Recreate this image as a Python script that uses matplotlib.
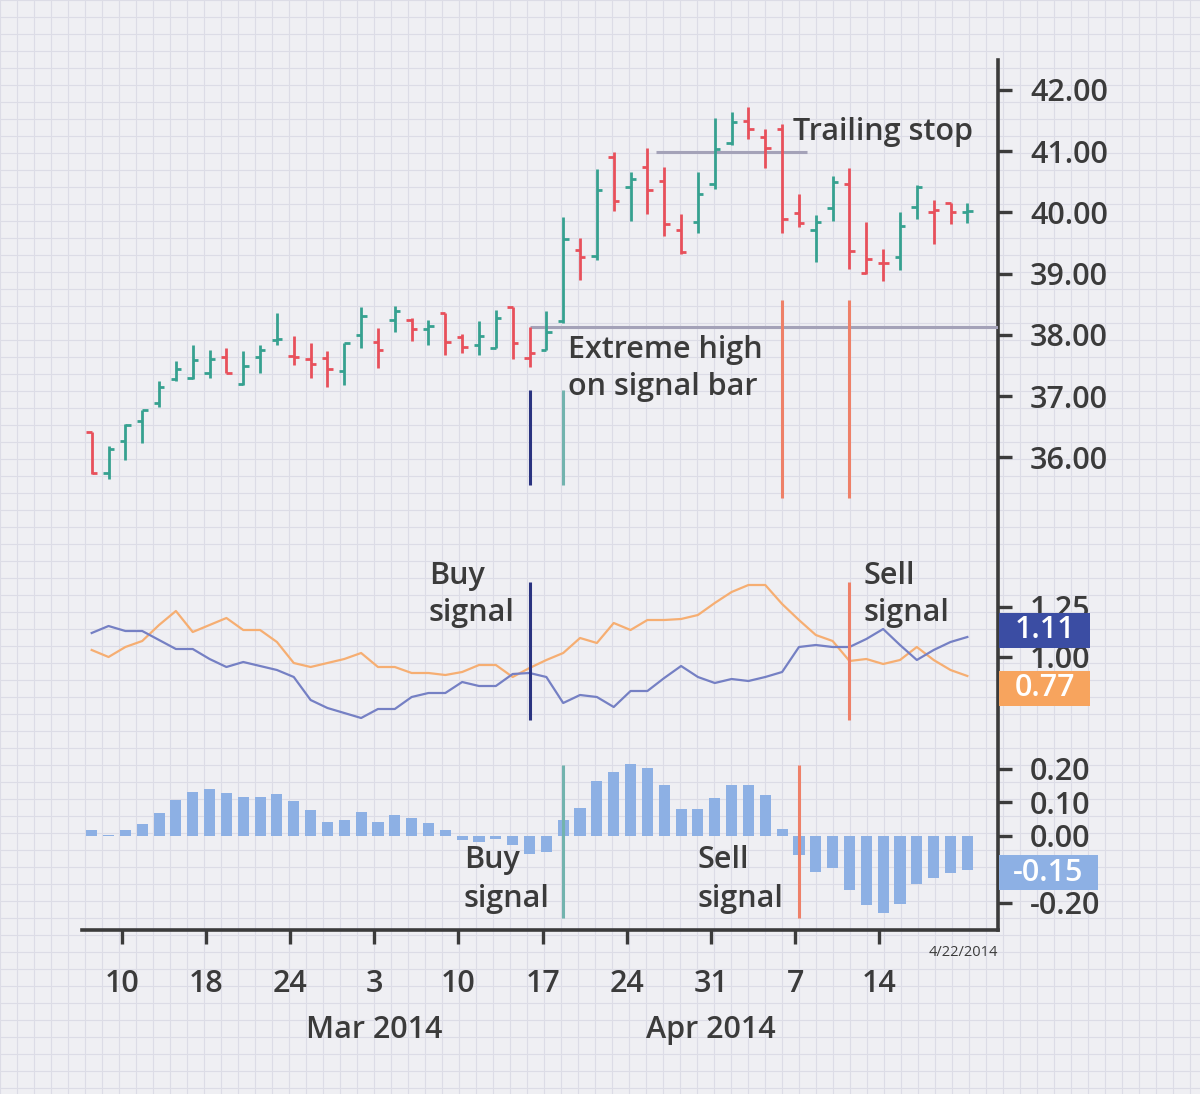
import numpy as np
import pandas as pd
import matplotlib
matplotlib.use("Agg")
import matplotlib.pyplot as plt
import matplotlib.transforms as mtransforms
from matplotlib.patches import Rectangle

plt.rcParams['font.family'] = ['Open Sans', 'DejaVu Sans']
plt.rcParams['font.weight'] = 'semibold'

# ---- data ----
dates = pd.bdate_range("2014-02-07", "2014-04-22")

opens = [36.41, 35.74, 36.27, 36.59, 36.89, 37.28, 37.29, 37.38, 37.63, 37.19,
         37.64, 37.91, 37.66, 37.60, 37.62, 37.41, 38.00, 37.88, 38.24, 38.25,
         38.09, 38.35, 37.97, 37.83, 37.79, 38.45, 37.62, 37.76, 38.23, 39.38,
         39.29, 40.90, 40.42, 40.74, 40.52, 39.71, 39.84, 40.46, 41.14, 41.50,
         41.24, 41.36, 39.99, 39.71, 40.07, 40.46, 39.01, 39.17, 39.27, 40.09,
         40.01, 40.15, 40.00]
highs = [36.41, 36.19, 36.54, 36.78, 37.25, 37.57, 37.84, 37.76, 37.78, 37.74,
         37.84, 38.35, 37.98, 37.86, 37.73, 37.87, 38.46, 38.11, 38.47, 38.27,
         38.25, 38.35, 38.02, 38.22, 38.41, 38.45, 38.12, 38.39, 39.92, 39.58,
         40.71, 40.98, 40.66, 41.05, 40.75, 39.98, 40.66, 41.54, 41.64, 41.73,
         41.37, 41.44, 40.30, 39.95, 40.60, 40.73, 39.85, 39.41, 40.00, 40.44,
         40.21, 40.16, 40.16]
lows = [35.73, 35.64, 35.95, 36.24, 36.82, 37.24, 37.28, 37.29, 37.37, 37.18,
        37.37, 37.83, 37.50, 37.30, 37.14, 37.18, 37.79, 37.46, 38.05, 37.90,
        37.83, 37.67, 37.70, 37.67, 37.78, 37.60, 37.48, 37.75, 38.20, 38.89,
        39.22, 40.02, 39.86, 39.98, 39.62, 39.32, 39.67, 40.39, 41.10, 41.20,
        40.73, 39.67, 39.76, 39.19, 39.86, 39.07, 39.00, 38.88, 39.06, 39.90,
        39.49, 39.81, 39.83]
closes = [35.75, 36.14, 36.52, 36.77, 37.14, 37.45, 37.59, 37.60, 37.38, 37.49,
          37.75, 37.94, 37.64, 37.53, 37.44, 37.86, 38.31, 37.76, 38.39, 38.09,
          38.14, 37.88, 37.80, 37.98, 38.27, 37.86, 37.70, 38.05, 39.56, 39.27,
          40.37, 40.19, 40.54, 40.37, 39.81, 39.36, 40.30, 41.04, 41.47, 41.37,
          41.05, 39.89, 39.82, 39.85, 40.49, 39.37, 39.24, 39.18, 39.78, 40.42,
          40.04, 40.01, 40.03]

osc_blue = [1.12, 1.155, 1.13, 1.13, 1.085, 1.04, 1.04, 0.99, 0.95, 0.975,
            0.955, 0.935, 0.90, 0.785, 0.745, 0.72, 0.695, 0.74, 0.74, 0.80,
            0.82, 0.82, 0.875, 0.855, 0.855, 0.915, 0.92, 0.90, 0.77, 0.81,
            0.80, 0.75, 0.83, 0.83, 0.895, 0.955, 0.90, 0.87, 0.89, 0.88,
            0.90, 0.925, 1.05, 1.06, 1.05, 1.05, 1.09, 1.14, 1.06, 0.985,
            1.035, 1.075, 1.10]
osc_orange = [1.035, 1.00, 1.05, 1.08, 1.16, 1.23, 1.125, 1.16, 1.195, 1.135,
              1.135, 1.075, 0.97, 0.95, 0.97, 0.99, 1.02, 0.95, 0.95, 0.92,
              0.92, 0.91, 0.925, 0.96, 0.96, 0.90, 0.945, 0.985, 1.02, 1.095,
              1.07, 1.17, 1.135, 1.185, 1.185, 1.19, 1.21, 1.27, 1.325, 1.36,
              1.36, 1.265, 1.185, 1.11, 1.08, 0.98, 0.99, 0.965, 0.985, 1.05,
              0.985, 0.935, 0.905]
hist = [0.017, 0.003, 0.017, 0.035, 0.07, 0.107, 0.132, 0.141, 0.127, 0.117,
        0.117, 0.125, 0.104, 0.077, 0.043, 0.049, 0.072, 0.043, 0.063, 0.053,
        0.039, 0.017, -0.013, -0.018, -0.01, -0.027, -0.055, -0.047, 0.048, 0.085,
        0.164, 0.192, 0.214, 0.204, 0.151, 0.08, 0.08, 0.112, 0.151, 0.151,
        0.122, 0.02, -0.057, -0.106, -0.097, -0.161, -0.206, -0.231, -0.202, -0.142,
        -0.124, -0.109, -0.102]

tick_dates = ["2014-02-10", "2014-02-17", "2014-02-24", "2014-03-03", "2014-03-10",
              "2014-03-17", "2014-03-24", "2014-03-31", "2014-04-07", "2014-04-14"]
tick_labels = ["10", "18", "24", "3", "10", "17", "24", "31", "7", "14"]
month_dates = ["2014-03-03", "2014-03-31"]
month_labels = ["Mar 2014", "Apr 2014"]

buy_signal = "2014-03-17"
buy_confirm = "2014-03-19"
sell_signals = ["2014-04-07", "2014-04-11"]
hist_buy = "2014-03-19"
hist_sell = "2014-04-08"
trailing_stop = 40.99
trail_span = ("2014-03-27", "2014-04-08")

price_ticks = [36, 37, 38, 39, 40, 41, 42]
osc_ticks = [1.00, 1.25]
hist_ticks = [-0.20, 0.00, 0.10, 0.20]
last_labels = {"blue": "1.11", "orange": "0.77", "hist": "-0.15"}

# ---- colours ----
TXT = "#3b3b3b"
GREEN = "#36a190"
RED = "#e8505b"
NAVY = "#2a3380"
TEAL = "#72b3ae"
SELL = "#ee8068"
GREYLINE = "#a4a2b8"
BLUE = "#7580c4"
ORANGE = "#f6ae72"
BLUEBOX = "#3b4da3"
ORANGEBOX = "#f7a45e"
HISTC = "#8db0e4"

x = np.arange(len(dates))
pos = {d.strftime("%Y-%m-%d"): i for i, d in enumerate(dates)}
tick_off = 0.78

W, H = 1200, 1094
fig = plt.figure(figsize=(W / 100, H / 100), dpi=100)
fig.patch.set_facecolor("#efeff3")

# graph paper background
bg = fig.add_axes([0, 0, 1, 1], zorder=-10)
bg.set_xlim(0, W)
bg.set_ylim(H, 0)
bg.axis("off")
for gx in np.arange(0, W, 17):
    bg.axvline(gx, color="#dcdce6", lw=0.8)
for gy in np.arange(0, H, 17):
    bg.axhline(gy, color="#dcdce6", lw=0.8)


def rect(top, bottom, left=82, right=998):
    return [left / W, 1 - bottom / H, (right - left) / W, (bottom - top) / H]


xlim = (-0.576, 53.82)

# frame with bottom and right spines
axf = fig.add_axes(rect(60, 930))
axf.patch.set_alpha(0)
axf.set_xlim(xlim)
for s in ["top", "left"]:
    axf.spines[s].set_visible(False)
for s in ["bottom", "right"]:
    axf.spines[s].set_linewidth(2.6)
    axf.spines[s].set_color(TXT)
axf.set_yticks([])
tpos = [pos[d] + tick_off for d in tick_dates]
axf.set_xticks(tpos)
axf.set_xticklabels(tick_labels, fontsize=22, color=TXT)
axf.tick_params(axis="x", direction="out", length=10, width=2.4, color=TXT, pad=18)
for d, lab in zip(month_dates, month_labels):
    axf.text(pos[d] + tick_off, -0.115, lab, transform=axf.get_xaxis_transform(),
             ha="center", va="center", fontsize=22, color=TXT)
axf.text(1.0, -0.026, dates[-1].strftime("%-m/%d/%Y"), transform=axf.transAxes,
         ha="right", va="center", fontsize=10.5, color=TXT, fontweight="normal")


def panel(top, bottom, ylim, ticks, fmt):
    ax = fig.add_axes(rect(top, bottom))
    ax.patch.set_alpha(0)
    ax.set_xlim(xlim)
    ax.set_ylim(ylim)
    for s in ax.spines.values():
        s.set_visible(False)
    ax.set_xticks([])
    ax.yaxis.tick_right()
    ax.set_yticks(ticks)
    ax.set_yticklabels([fmt.format(t) for t in ticks], fontsize=22, color=TXT)
    ax.tick_params(axis="y", direction="out", length=10, width=2.4, color=TXT, pad=13)
    return ax


# ---- price panel ----
axp = panel(60, 505, (35.22, 42.49), price_ticks, "{:.2f}")
prev = np.r_[opens[0], closes[:-1]]
cols = np.where(np.array(closes) >= prev, GREEN, RED)
axp.vlines(x, lows, highs, colors=cols, lw=2.0)
axp.hlines(opens, x - 0.32, x, colors=cols, lw=2.0)
axp.hlines(closes, x, x + 0.32, colors=cols, lw=2.0)

ib = pos[buy_signal]
axp.hlines(highs[ib], ib, xlim[1], color=GREYLINE, lw=2.2, zorder=1)
axp.hlines(trailing_stop, pos[trail_span[0]] - 0.5, pos[trail_span[1]] + 0.5,
           color=GREYLINE, lw=2.2, zorder=1)
axp.vlines(ib, 35.54, 37.10, color=NAVY, lw=2.2)
axp.vlines(pos[buy_confirm], 35.54, 37.10, color=TEAL, lw=2.2)
for d in sell_signals:
    axp.vlines(pos[d], 35.33, 38.57, color=SELL, lw=2.2)
axp.text(41.65, 41.31, "Trailing stop", fontsize=22, color=TXT, va="center", ha="left")
axp.text(28.28, 37.45, "Extreme high\non signal bar", fontsize=22, color=TXT,
         va="center", ha="left", linespacing=1.3)

# ---- oscillator panel ----
axo = panel(570, 730, (0.635, 1.435), osc_ticks, "{:.2f}")
axo.plot(x, osc_orange, color=ORANGE, lw=1.6)
axo.plot(x, osc_blue, color=BLUE, lw=1.6)
axo.vlines(ib, 0.685, 1.375, color=NAVY, lw=2.2)
axo.vlines(pos[sell_signals[1]], 0.685, 1.375, color=SELL, lw=2.2)
axo.text(20.03, 1.3125, "Buy\nsignal", fontsize=22, color=TXT, va="center", ha="left",
         linespacing=1.3)
axo.text(45.86, 1.3125, "Sell\nsignal", fontsize=22, color=TXT, va="center", ha="left",
         linespacing=1.3)

# ---- histogram panel ----
axh = panel(750, 925, (-0.2657, 0.2567), hist_ticks, "{:.2f}")
axh.bar(x, hist, width=0.66, color=HISTC, zorder=1)
axh.vlines(pos[hist_buy], -0.245, 0.212, color=TEAL, lw=2.2)
axh.vlines(pos[hist_sell], -0.245, 0.212, color=SELL, lw=2.2)
axh.text(22.1, -0.131, "Buy\nsignal", fontsize=22, color=TXT, va="center", ha="left",
         linespacing=1.4)
axh.text(36.0, -0.131, "Sell\nsignal", fontsize=22, color=TXT, va="center", ha="left",
         linespacing=1.4)


def last_box(ax, yval, text, fc, width):
    # boxed last-value label sitting against the right spine (pixel units)
    ycen = ax.transData.transform((0, yval))[1]
    x0 = ax.transAxes.transform((1, 0))[0] + 1
    ident = mtransforms.IdentityTransform()
    fig.add_artist(Rectangle((x0, ycen - 17.5), width, 35, transform=ident,
                             fc=fc, ec="none", zorder=5))
    fig.text(x0 + width / 2, ycen, text, transform=ident, ha="center", va="center",
             fontsize=22, color="white", zorder=6)


last_box(axo, 1.135, last_labels["blue"], BLUEBOX, 91)
last_box(axo, 0.845, last_labels["orange"], ORANGEBOX, 91)
last_box(axh, -0.11, last_labels["hist"], HISTC, 99)

fig.savefig("out.png", dpi=100, facecolor=fig.get_facecolor())
